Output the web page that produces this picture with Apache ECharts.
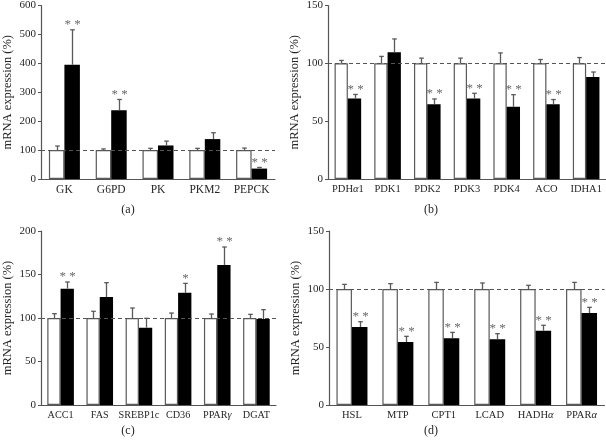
<!DOCTYPE html>
<html>
<head>
<meta charset="utf-8">
<script src="https://cdn.jsdelivr.net/npm/echarts@6/dist/echarts.min.js"></script>
<style>
html,body{margin:0;padding:0;background:#fff;}
#chart{width:606px;height:442px;}
</style>
</head>
<body>
<div id="chart"></div>
<script>
// ---- Panel (a) ----
const catsA = ['GK', 'G6PD', 'PK', 'PKM2', 'PEPCK'];
const ctrlA = [100, 100, 100, 100, 100];
const ctrlErrA = [14, 4, 6, 6, 7];
const trtA = [395, 238, 116, 138, 36];
const trtErrA = [121, 37, 15, 22, 4];
const sigA = ['**', '**', '', '', '**'];

// ---- Panel (b) ----
const catsB = ['PDHα1', 'PDK1', 'PDK2', 'PDK3', 'PDK4', 'ACO', 'IDHA1'];
const ctrlB = [100, 100, 100, 100, 100, 100, 100];
const ctrlErrB = [2.5, 6, 4.5, 4.5, 9, 3.3, 5];
const trtB = [69.6, 109.6, 64.7, 69.6, 62.4, 64.7, 88.2];
const trtErrB = [3.5, 11.5, 4.5, 4.5, 10.5, 4, 4.3];
const sigB = ['**', '', '**', '**', '**', '**', ''];

// ---- Panel (c) ----
const catsC = ['ACC1', 'FAS', 'SREBP1c', 'CD36', 'PPARγ', 'DGAT'];
const ctrlC = [100, 100, 100, 100, 100, 100];
const ctrlErrC = [5, 7.7, 11.5, 5.7, 4.6, 4.2];
const trtC = [133.7, 124, 88.9, 129, 161, 98.9];
const trtErrC = [7.7, 16.6, 10.7, 10.8, 20.6, 10.7];
const sigC = ['**', '', '', '*', '**', ''];

// ---- Panel (d) ----
const catsD = ['HSL', 'MTP', 'CPT1', 'LCAD', 'HADHα', 'PPARα'];
const ctrlD = [100, 100, 100, 100, 100, 100];
const ctrlErrD = [4, 4.6, 5.7, 5.2, 3.2, 5.7];
const trtD = [67.2, 54.3, 57.5, 56.6, 64.1, 79.3];
const trtErrD = [4.6, 4.9, 5.1, 4.9, 4.6, 4.9];
const sigD = ['**', '**', '**', '**', '**', '**'];

// ---- Axis settings ----
const yMaxA = 600, yStepA = 100;
const yMaxB = 150, yStepB = 50;
const yMaxC = 200, yStepC = 50;
const yMaxD = 150, yStepD = 50;
const refLevel = 100;
const yName = 'mRNA expression (%)';
const panelNames = ['(a)', '(b)', '(c)', '(d)'];

const FONT = '"Liberation Serif", "DejaVu Serif", serif';
const TXT = '#262626';
const AX = '#555';

const panels = [
  {cats: catsA, ctrl: ctrlA, ctrlErr: ctrlErrA, trt: trtA, trtErr: trtErrA, sig: sigA, max: yMaxA, step: yStepA,
   grid: {left: 41, top: 5, width: 234, height: 174}, bw: 15.5, fs: 11.5, label: {x: 128, y: 210}},
  {cats: catsB, ctrl: ctrlB, ctrlErr: ctrlErrB, trt: trtB, trtErr: trtErrB, sig: sigB, max: yMaxB, step: yStepB,
   grid: {left: 328, top: 5, width: 278, height: 174}, bw: 13.3, fs: 10.5, label: {x: 431, y: 210}},
  {cats: catsC, ctrl: ctrlC, ctrlErr: ctrlErrC, trt: trtC, trtErr: trtErrC, sig: sigC, max: yMaxC, step: yStepC,
   grid: {left: 41, top: 231, width: 235, height: 174}, bw: 13.3, fs: 10.2, label: {x: 128, y: 431}},
  {cats: catsD, ctrl: ctrlD, ctrlErr: ctrlErrD, trt: trtD, trtErr: trtErrD, sig: sigD, max: yMaxD, step: yStepD,
   grid: {left: 329, top: 231, width: 275.5, height: 174}, bw: 15.5, fs: 10.5, label: {x: 431, y: 431}}
];

function fmtLabel(s) { return s.replace(/([αγ])/g, '{g|$1}'); }

function errRender(side, w, sigArr) {
  return function (params, api) {
    const i = api.value(0), v = api.value(1), e = api.value(2);
    const base = api.coord([i, v]);
    const top = api.coord([i, v + e]);
    const x = Math.round(base[0] + side * w / 2) + 0.5;
    const children = [
      {type: 'line', shape: {x1: x, y1: base[1], x2: x, y2: top[1]}, style: {stroke: '#5a5a5a', lineWidth: 1.3}},
      {type: 'line', shape: {x1: x - 2.3, y1: top[1], x2: x + 2.3, y2: top[1]}, style: {stroke: '#5a5a5a', lineWidth: 1.3}}
    ];
    const s = sigArr ? sigArr[params.dataIndex] : '';
    if (s) {
      children.push({
        type: 'text',
        style: {
          text: s.split('').join(' '), x: x, y: top[1] - 5,
          textAlign: 'center', textVerticalAlign: 'middle',
          font: '13px ' + FONT, fill: '#6a6a6a'
        }
      });
    }
    return {type: 'group', children: children};
  };
}

const option = {
  animation: false,
  backgroundColor: '#fff',
  grid: [], xAxis: [], yAxis: [], series: [],
  graphic: panels.map((p, k) => ({
    type: 'text', x: p.label.x, y: p.label.y,
    style: {text: panelNames[k], textAlign: 'center', textVerticalAlign: 'middle', font: '12px ' + FONT, fill: TXT}
  }))
};

panels.forEach((p, k) => {
  option.grid.push(Object.assign({containLabel: false}, p.grid));
  option.xAxis.push({
    gridIndex: k, type: 'category', data: p.cats, boundaryGap: true,
    axisLine: {lineStyle: {color: AX, width: 1.2}},
    axisTick: {show: false},
    axisLabel: {
      interval: 0, margin: 5, color: TXT, fontFamily: FONT, fontSize: p.fs,
      formatter: fmtLabel,
      rich: {g: {fontStyle: 'italic', fontFamily: FONT, fontSize: p.fs, color: TXT}}
    },
    splitLine: {show: false}
  });
  option.yAxis.push({
    gridIndex: k, type: 'value', min: 0, max: p.max, interval: p.step,
    name: yName, nameLocation: 'middle', nameGap: 27,
    nameTextStyle: {color: TXT, fontFamily: FONT, fontSize: 12.5},
    axisLine: {show: true, lineStyle: {color: AX, width: 1.2}},
    axisTick: {show: true, length: 3, lineStyle: {color: AX}},
    axisLabel: {margin: 5, color: TXT, fontFamily: FONT, fontSize: 11},
    splitLine: {show: false}
  });
  option.series.push({
    type: 'bar', xAxisIndex: k, yAxisIndex: k, z: 2,
    data: p.ctrl, barWidth: p.bw, barGap: '0%',
    itemStyle: {color: '#fff', borderColor: '#5a5a5a', borderWidth: 1.2},
    markLine: {
      silent: true, symbol: ['none', 'none'], label: {show: false},
      lineStyle: {type: [4, 3], color: '#555', width: 1.2},
      data: [{yAxis: refLevel}]
    }
  });
  option.series.push({
    type: 'bar', xAxisIndex: k, yAxisIndex: k, z: 3,
    data: p.trt, barWidth: p.bw, barGap: '0%',
    itemStyle: {color: '#000'}
  });
  option.series.push({
    type: 'custom', xAxisIndex: k, yAxisIndex: k, z: 4, silent: true,
    renderItem: errRender(-1, p.bw, null),
    encode: {x: 0, y: 1},
    data: p.cats.map((c, i) => [i, p.ctrl[i], p.ctrlErr[i]])
  });
  option.series.push({
    type: 'custom', xAxisIndex: k, yAxisIndex: k, z: 4, silent: true,
    renderItem: errRender(1, p.bw, p.sig),
    encode: {x: 0, y: 1},
    data: p.cats.map((c, i) => [i, p.trt[i], p.trtErr[i]])
  });
});

const chart = echarts.init(document.getElementById('chart'), null, {renderer: 'canvas'});
chart.setOption(option);
</script>
</body>
</html>
